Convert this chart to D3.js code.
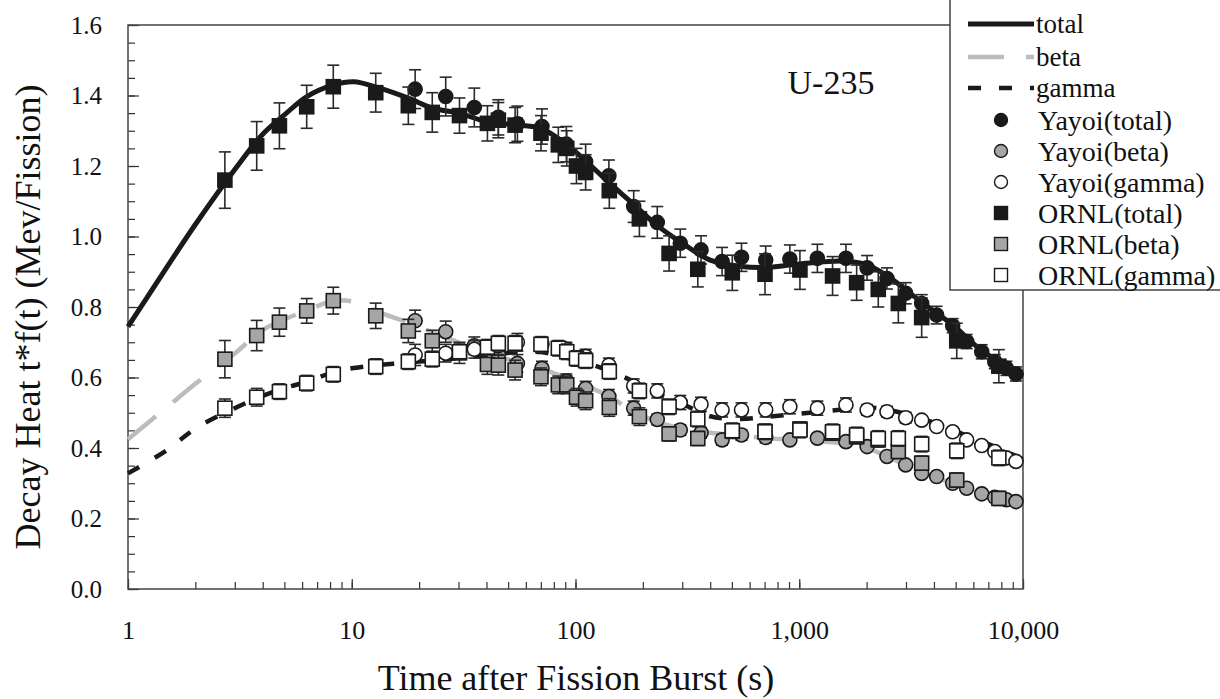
<!DOCTYPE html>
<html>
<head>
<meta charset="utf-8">
<script src="https://cdn.jsdelivr.net/npm/d3@7"></script>
<style>
  body { margin: 0; background: #fff; }
  svg text { font-family: "Liberation Serif", "Times New Roman", serif; fill: #111; }
</style>
</head>
<body>
<svg id="chart" width="1220" height="699"></svg>
<script>
"use strict";

// ---- data ----
// summation curves (time in s, value in MeV/fission)
const curveTime  = [1, 1.5, 2, 3, 4, 5, 6.3, 8.3, 10.2, 13, 18, 23, 30, 40, 55, 70, 90, 110, 140, 180, 230, 300, 400, 550, 700, 1000, 1600, 2000, 2500, 3500, 4850, 6500, 10000];
const curveTotal = [0.744, 0.915, 1.034, 1.19, 1.29, 1.345, 1.397, 1.43, 1.439, 1.423, 1.392, 1.364, 1.35, 1.326, 1.316, 1.307, 1.264, 1.217, 1.155, 1.094, 1.033, 0.981, 0.933, 0.915, 0.912, 0.922, 0.93, 0.92, 0.886, 0.815, 0.749, 0.678, 0.605];
const curveBeta  = [0.425, 0.517, 0.582, 0.668, 0.735, 0.765, 0.79, 0.818, 0.815, 0.787, 0.755, 0.728, 0.70, 0.668, 0.645, 0.625, 0.60, 0.578, 0.548, 0.505, 0.475, 0.455, 0.443, 0.435, 0.428, 0.423, 0.413, 0.40, 0.375, 0.33, 0.30, 0.268, 0.238];
const curveGamma = [0.328, 0.395, 0.455, 0.513, 0.548, 0.57, 0.588, 0.615, 0.627, 0.635, 0.643, 0.648, 0.655, 0.662, 0.672, 0.672, 0.657, 0.643, 0.62, 0.59, 0.555, 0.525, 0.49, 0.482, 0.488, 0.497, 0.51, 0.515, 0.508, 0.485, 0.45, 0.42, 0.368];

// Yayoi measurement
const yayoiTime  = [19.2, 26.3, 35.3, 45.2, 55, 70.8, 91, 111, 141, 182, 232, 294, 364, 452, 552, 708, 908, 1205, 1617, 2010, 2466, 2990, 3525, 4112, 4850, 5600, 6540, 7480, 8430, 9300];
const yayoiTotal = [1.418, 1.397, 1.366, 1.338, 1.32, 1.312, 1.262, 1.212, 1.172, 1.085, 1.040, 0.981, 0.962, 0.929, 0.941, 0.933, 0.936, 0.938, 0.938, 0.911, 0.881, 0.839, 0.810, 0.777, 0.747, 0.702, 0.673, 0.645, 0.626, 0.610];
const yayoiTotalErr = [0.055, 0.055, 0.055, 0.05, 0.05, 0.05, 0.05, 0.05, 0.045, 0.045, 0.045, 0.04, 0.04, 0.04, 0.04, 0.04, 0.04, 0.04, 0.04, 0.035, 0.03, 0.03, 0.025, 0.025, 0.02, 0.02, 0.02, 0.02, 0.02, 0.02];
const yayoiBeta  = [0.761, 0.730, 0.69, 0.664, 0.64, 0.626, 0.59, 0.569, 0.546, 0.513, 0.481, 0.451, 0.443, 0.423, 0.437, 0.43, 0.423, 0.428, 0.418, 0.404, 0.376, 0.352, 0.328, 0.319, 0.300, 0.286, 0.270, 0.260, 0.253, 0.248];
const yayoiBetaErr = [0.03, 0.03, 0.025, 0.025, 0.025, 0.02, 0.02, 0.02, 0.02, 0.02, 0.015, 0.015, 0.015, 0.015, 0.015, 0.015, 0.01, 0.01, 0.01, 0.01, 0.01, 0.01, 0.01, 0.01, 0.01, 0.01, 0.01, 0.01, 0.01, 0.01];
const yayoiGamma = [0.664, 0.669, 0.680, 0.69, 0.70, 0.695, 0.68, 0.66, 0.635, 0.576, 0.562, 0.529, 0.524, 0.508, 0.508, 0.508, 0.517, 0.513, 0.522, 0.508, 0.503, 0.486, 0.479, 0.461, 0.446, 0.423, 0.407, 0.390, 0.372, 0.362];
const yayoiGammaErr = [0.03, 0.025, 0.025, 0.025, 0.025, 0.02, 0.02, 0.02, 0.02, 0.02, 0.02, 0.02, 0.02, 0.02, 0.02, 0.02, 0.02, 0.02, 0.02, 0.015, 0.015, 0.015, 0.01, 0.01, 0.01, 0.01, 0.01, 0.01, 0.01, 0.01];

// ORNL measurement
const ornlTime  = [2.71, 3.76, 4.75, 6.29, 8.27, 12.8, 17.9, 22.9, 30.3, 40.4, 45.2, 53.7, 70.1, 83.8, 91.4, 101, 111, 141.6, 193, 262, 352, 502, 703, 1007, 1409, 1805, 2255, 2772, 3525, 5057, 7800];
const ornlTotal = [1.160, 1.257, 1.314, 1.368, 1.425, 1.408, 1.371, 1.352, 1.343, 1.321, 1.33, 1.316, 1.293, 1.260, 1.25, 1.200, 1.182, 1.130, 1.050, 0.952, 0.907, 0.897, 0.893, 0.905, 0.888, 0.869, 0.850, 0.810, 0.770, 0.704, 0.632];
const ornlTotalErr = [0.08, 0.069, 0.065, 0.061, 0.061, 0.055, 0.053, 0.056, 0.05, 0.05, 0.05, 0.05, 0.05, 0.05, 0.05, 0.05, 0.05, 0.05, 0.05, 0.05, 0.05, 0.05, 0.058, 0.055, 0.055, 0.05, 0.05, 0.055, 0.056, 0.05, 0.047];
const ornlBeta  = [0.652, 0.719, 0.757, 0.789, 0.818, 0.775, 0.732, 0.704, 0.670, 0.637, 0.635, 0.621, 0.602, 0.579, 0.579, 0.544, 0.534, 0.515, 0.489, 0.440, 0.427, 0.448, 0.447, 0.454, 0.442, 0.432, 0.423, 0.390, 0.357, 0.309, 0.257];
const ornlBetaErr = [0.053, 0.043, 0.04, 0.035, 0.038, 0.036, 0.033, 0.03, 0.03, 0.028, 0.028, 0.028, 0.025, 0.025, 0.025, 0.025, 0.025, 0.025, 0.025, 0.02, 0.02, 0.02, 0.02, 0.02, 0.02, 0.02, 0.02, 0.02, 0.02, 0.02, 0.02];
const ornlGamma = [0.513, 0.544, 0.560, 0.584, 0.609, 0.631, 0.645, 0.652, 0.673, 0.686, 0.697, 0.697, 0.694, 0.683, 0.673, 0.654, 0.648, 0.617, 0.562, 0.517, 0.482, 0.449, 0.446, 0.451, 0.446, 0.437, 0.427, 0.427, 0.411, 0.392, 0.372];
const ornlGammaErr = [0.026, 0.025, 0.022, 0.022, 0.022, 0.022, 0.022, 0.022, 0.022, 0.022, 0.022, 0.022, 0.022, 0.022, 0.022, 0.022, 0.022, 0.022, 0.022, 0.022, 0.022, 0.022, 0.022, 0.022, 0.022, 0.022, 0.022, 0.022, 0.022, 0.022, 0.022];

const yTicks = [0, 0.2, 0.4, 0.6, 0.8, 1.0, 1.2, 1.4, 1.6];
const xTicks = [1, 10, 100, 1000, 10000];

// ---- setup ----
const svg = d3.select("#chart");
const plot = { left: 128, right: 1023, top: 25, bottom: 589 };
const legendBox = { x: 950, y: -2, w: 290, h: 292 };

const scaleX = d3.scaleLog().domain([1, 10000]).range([plot.left, plot.right]);
const scaleY = d3.scaleLinear().domain([0, 1.6]).range([plot.bottom, plot.top]);

const darkGrey = "#1a1a1a", midGrey = "#a6a6a6", lineGrey = "#bcbcbc";

// ---- axes ----
// minor x ticks
svg.append("g")
  .attr("transform", `translate(0, ${plot.bottom})`)
  .call(d3.axisBottom(scaleX).ticks(10).tickSize(-7).tickFormat(""))
  .call(g => g.select(".domain").remove())
  .call(g => g.selectAll("line").attr("stroke", "#333").attr("stroke-width", 1.2));

// major x ticks + labels
svg.append("g")
  .attr("transform", `translate(0, ${plot.bottom})`)
  .call(d3.axisBottom(scaleX).tickValues(xTicks).tickSize(-10).tickPadding(32).tickFormat(d3.format(",")))
  .call(g => g.select(".domain").remove())
  .call(g => g.selectAll("line").attr("stroke", "#333").attr("stroke-width", 1.2))
  .call(g => g.selectAll("text").attr("font-size", 26).attr("fill", "#111"));

// minor y ticks
svg.append("g")
  .attr("transform", `translate(${plot.left}, 0)`)
  .call(d3.axisLeft(scaleY).ticks(40).tickSize(-7).tickFormat(""))
  .call(g => g.select(".domain").remove())
  .call(g => g.selectAll("line").attr("stroke", "#333").attr("stroke-width", 1.2));

// major y ticks + labels
svg.append("g")
  .attr("transform", `translate(${plot.left}, 0)`)
  .call(d3.axisLeft(scaleY).tickValues(yTicks).tickSize(-11).tickPadding(26).tickFormat(d3.format(".1f")))
  .call(g => g.select(".domain").remove())
  .call(g => g.selectAll("line").attr("stroke", "#333").attr("stroke-width", 1.2))
  .call(g => g.selectAll("text").attr("font-size", 25).attr("fill", "#111"));

// frame
svg.append("path")
  .attr("d", `M${legendBox.x},${plot.top}H${plot.left}V${plot.bottom}H${plot.right}V${legendBox.y + legendBox.h}`)
  .attr("fill", "none")
  .attr("stroke", "#444")
  .attr("stroke-width", 1.5);

// axis titles
svg.append("text")
  .attr("x", 576)
  .attr("y", 690)
  .attr("text-anchor", "middle")
  .attr("font-size", 36)
  .text("Time after Fission Burst (s)");

svg.append("text")
  .attr("transform", `translate(40, ${(plot.top + plot.bottom) / 2 + 10}) rotate(-90)`)
  .attr("text-anchor", "middle")
  .attr("font-size", 36)
  .text("Decay Heat t*f(t) (Mev/Fission)");

svg.append("text")
  .attr("x", 831)
  .attr("y", 94)
  .attr("text-anchor", "middle")
  .attr("font-size", 34)
  .text("U-235");

// ---- curves ----
const lineGen = d3.line()
  .x(d => scaleX(d[0]))
  .y(d => scaleY(d[1]))
  .curve(d3.curveCatmullRom.alpha(0.5));

const curves = [
  { vals: curveBeta,  color: lineGrey,  width: 4.5, dash: "36,22" },
  { vals: curveGamma, color: darkGrey,  width: 4.5, dash: "13,18" },
  { vals: curveTotal, color: darkGrey,  width: 5,   dash: null }
];
curves.forEach(c => {
  svg.append("path")
    .datum(curveTime.map((t, i) => [t, c.vals[i]]))
    .attr("d", lineGen)
    .attr("fill", "none")
    .attr("stroke", c.color)
    .attr("stroke-width", c.width)
    .attr("stroke-dasharray", c.dash);
});

// ---- points ----
const markSize = 14;
const capHalf = 6;

function drawSeries(times, vals, errs, shape, fill) {
  let g = svg.append("g");
  times.forEach((t, i) => {
    let px = scaleX(t), py = scaleY(vals[i]);
    let hi = scaleY(vals[i] + errs[i]), lo = scaleY(vals[i] - errs[i]);
    let eb = g.append("g").attr("stroke", "#2a2a2a").attr("stroke-width", 1.6);
    eb.append("line").attr("x1", px).attr("x2", px).attr("y1", hi).attr("y2", lo);
    eb.append("line").attr("x1", px - capHalf).attr("x2", px + capHalf).attr("y1", hi).attr("y2", hi);
    eb.append("line").attr("x1", px - capHalf).attr("x2", px + capHalf).attr("y1", lo).attr("y2", lo);
    if (shape == "circle") {
      g.append("circle")
        .attr("cx", px).attr("cy", py).attr("r", markSize / 2)
        .attr("fill", fill).attr("stroke", "#1a1a1a").attr("stroke-width", 1.6);
    } else {
      g.append("rect")
        .attr("x", px - markSize / 2).attr("y", py - markSize / 2)
        .attr("width", markSize).attr("height", markSize)
        .attr("fill", fill).attr("stroke", "#1a1a1a").attr("stroke-width", 1.6);
    }
  });
}

drawSeries(yayoiTime, yayoiBeta, yayoiBetaErr, "circle", midGrey);
drawSeries(yayoiTime, yayoiGamma, yayoiGammaErr, "circle", "#fff");
drawSeries(ornlTime, ornlBeta, ornlBetaErr, "rect", midGrey);
drawSeries(ornlTime, ornlGamma, ornlGammaErr, "rect", "#fff");
drawSeries(yayoiTime, yayoiTotal, yayoiTotalErr, "circle", darkGrey);
drawSeries(ornlTime, ornlTotal, ornlTotalErr, "rect", darkGrey);

// ---- legend ----
let legend = svg.append("g");
legend.append("rect")
  .attr("x", legendBox.x).attr("y", legendBox.y)
  .attr("width", legendBox.w).attr("height", legendBox.h)
  .attr("fill", "#fff").attr("stroke", "#444").attr("stroke-width", 1.5);

const legendLines = [
  { label: "total", color: darkGrey, width: 5, dash: null, y: 24 },
  { label: "beta",  color: lineGrey, width: 4.5, dash: "36,22", y: 57 },
  { label: "gamma", color: darkGrey, width: 4.5, dash: "13,18", y: 88 }
];
legendLines.forEach(l => {
  legend.append("line")
    .attr("x1", 968).attr("x2", 1034).attr("y1", l.y).attr("y2", l.y)
    .attr("stroke", l.color).attr("stroke-width", l.width)
    .attr("stroke-dasharray", l.dash);
  legend.append("text")
    .attr("x", 1036).attr("y", l.y + 9)
    .attr("font-size", 27)
    .text(l.label);
});

const legendMarks = [
  { label: "Yayoi(total)", shape: "circle", fill: darkGrey },
  { label: "Yayoi(beta)",  shape: "circle", fill: midGrey },
  { label: "Yayoi(gamma)", shape: "circle", fill: "#fff" },
  { label: "ORNL(total)",  shape: "rect",   fill: darkGrey },
  { label: "ORNL(beta)",   shape: "rect",   fill: midGrey },
  { label: "ORNL(gamma)",  shape: "rect",   fill: "#fff" }
];
legendMarks.forEach((m, i) => {
  let ly = 120 + i * 31;
  if (m.shape == "circle") {
    legend.append("circle").attr("cx", 1001).attr("cy", ly).attr("r", 6.5)
      .attr("fill", m.fill).attr("stroke", "#1a1a1a").attr("stroke-width", 1.4);
  } else {
    legend.append("rect").attr("x", 1001 - 6.5).attr("y", ly - 6.5).attr("width", 13).attr("height", 13)
      .attr("fill", m.fill).attr("stroke", "#1a1a1a").attr("stroke-width", 1.4);
  }
  legend.append("text")
    .attr("x", 1038).attr("y", ly + 10)
    .attr("font-size", 28)
    .text(m.label);
});
</script>
</body>
</html>
